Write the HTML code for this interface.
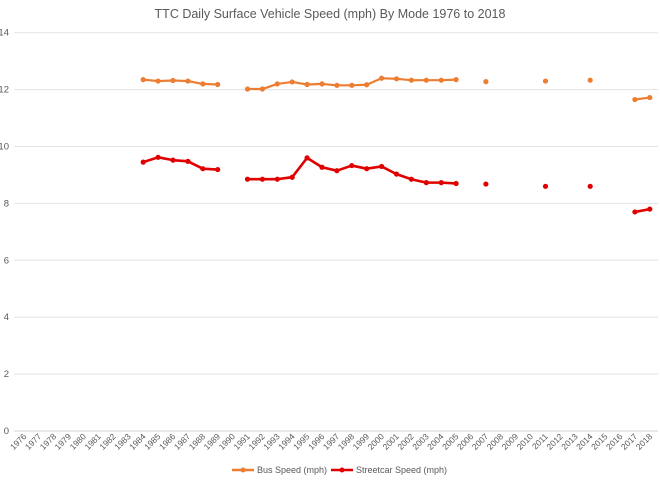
<!DOCTYPE html>
<html><head><meta charset="utf-8"><style>
body{margin:0;background:#fff;font-family:"Liberation Sans",sans-serif}
svg text{font-family:"Liberation Sans",sans-serif;fill:#595959}
</style></head><body>
<svg id="c" width="660" height="479">
<text x="330" y="18" text-anchor="middle" font-size="12.5">TTC Daily Surface Vehicle Speed (mph) By Mode 1976 to 2018</text>
<g id="grid"></g><g id="xl"></g><g id="series"></g>
<g>
<g><line x1="232" y1="470" x2="254" y2="470" stroke="#ED7D31" stroke-width="2.5"/><circle cx="243" cy="470" r="2.5" fill="#ED7D31"/><text x="257" y="473" font-size="9">Bus Speed (mph)</text></g>
<g><line x1="331" y1="470" x2="353" y2="470" stroke="#E00000" stroke-width="2.5"/><circle cx="342" cy="470" r="2.5" fill="#E00000"/><text x="356" y="473" font-size="9">Streetcar Speed (mph)</text></g>
</g>
</svg>
<script>
const years=[];for(let y=1976;y<=2018;y++)years.push(y);
const yTicks=[0,2,4,6,8,10,12,14];
const busYears=[1984,1985,1986,1987,1988,1989,1991,1992,1993,1994,1995,1996,1997,1998,1999,2000,2001,2002,2003,2004,2005,2007,2011,2014,2017,2018];
const busVals=[12.35,12.3,12.32,12.3,12.2,12.18,12.02,12.02,12.2,12.27,12.18,12.2,12.15,12.15,12.17,12.4,12.38,12.33,12.33,12.33,12.35,12.28,12.3,12.33,11.65,11.72];
const carYears=busYears;
const carVals=[9.45,9.62,9.52,9.48,9.22,9.19,8.85,8.85,8.85,8.92,9.6,9.27,9.15,9.33,9.22,9.3,9.03,8.85,8.73,8.73,8.7,8.68,8.6,8.6,7.7,7.8];
const NS="http://www.w3.org/2000/svg";
const X=y=>24+(y-1976)*14.9;
const Y=v=>431-v*28.45;
function mk(tag,attrs,parent){const e=document.createElementNS(NS,tag);for(const k in attrs)e.setAttribute(k,attrs[k]);parent.appendChild(e);return e;}
const grid=document.getElementById('grid'),xl=document.getElementById('xl'),ser=document.getElementById('series');
yTicks.forEach(t=>{
 const l=mk('line',{x1:14,x2:658,y1:Y(t),y2:Y(t),stroke:t==0?'#d0d0d0':'#e3e3e3','stroke-width':1},grid);
 
 
 const tx=mk('text',{x:9,y:Y(t)+3,'text-anchor':'end','font-size':9.5},grid);tx.textContent=t;
 
 
});
years.forEach(y=>{
 const tx=mk('text',{x:X(y)+3,y:437,'text-anchor':'end','font-size':8.5,transform:`rotate(-45 ${X(y)+3} 437)`},xl);tx.textContent=y;
 
 
});
function draw(ys,vs,col,name,w){
 const g=mk('g',{},ser);
 
 
 for(let i=0;i<ys.length-1;i++){
  if(ys[i+1]-ys[i]===1){
   const l=mk('line',{x1:X(ys[i]),y1:Y(vs[i]),x2:X(ys[i+1]),y2:Y(vs[i+1]),stroke:col,'stroke-width':w,'stroke-linecap':'round'},g);
   
   
  }
 }
 ys.forEach((y,i)=>{
  const c=mk('circle',{cx:X(y),cy:Y(vs[i]),r:2.6,fill:col},g);
  
  
 });
}
draw(busYears,busVals,'#ED7D31','bus',2.2);
draw(carYears,carVals,'#E00000','streetcar',2.6);
</script>
</body></html>
